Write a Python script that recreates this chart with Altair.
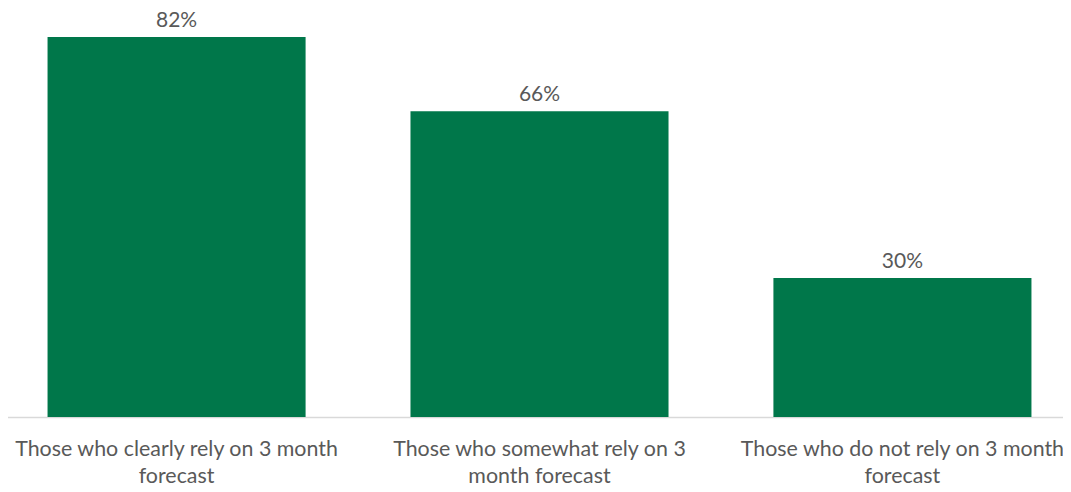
import altair as alt
import pandas as pd

categories = [
    "Those who clearly rely on 3 month\nforecast",
    "Those who somewhat rely on 3\nmonth forecast",
    "Those who do not rely on 3 month\nforecast",
]
values = [0.82, 0.66, 0.30]
labels = ["82%", "66%", "30%"]

df = pd.DataFrame({"cat": categories, "val": values, "lab": labels})

FONT = "Lato"
GREY = "#595959"

x = alt.X(
    "cat:N",
    sort=categories,
    title=None,
    scale=alt.Scale(paddingInner=0.289, paddingOuter=0.131),
    axis=alt.Axis(
        labelExpr="split(datum.value, '\\n')",
        labelAngle=0,
        labelFont=FONT,
        labelFontSize=21.4,
        labelColor=GREY,
        labelLineHeight=27,
        labelPadding=38,
        labelBaseline="alphabetic",
        ticks=False,
        domainColor="#D9D9D9",
        domainWidth=1.5,
        labelLimit=0,
    ),
)
y = alt.Y(
    "val:Q",
    title=None,
    scale=alt.Scale(domain=[0, 0.9], nice=False),
    axis=None,
)

bars = alt.Chart(df).mark_bar(color="#00774A").encode(x=x, y=y)
text = alt.Chart(df).mark_text(
    baseline="alphabetic", dy=-10, font=FONT, fontSize=21, color=GREY
).encode(x=x, y=y, text="lab:N")

chart = (
    (bars + text)
    .properties(width=1079, height=417, padding={"left": -8, "top": -8, "right": -16, "bottom": 0})
    .configure_view(stroke=None)
    .configure(background="white")
)

chart.save("out.html", embed_options={"renderer": "svg", "actions": False})
